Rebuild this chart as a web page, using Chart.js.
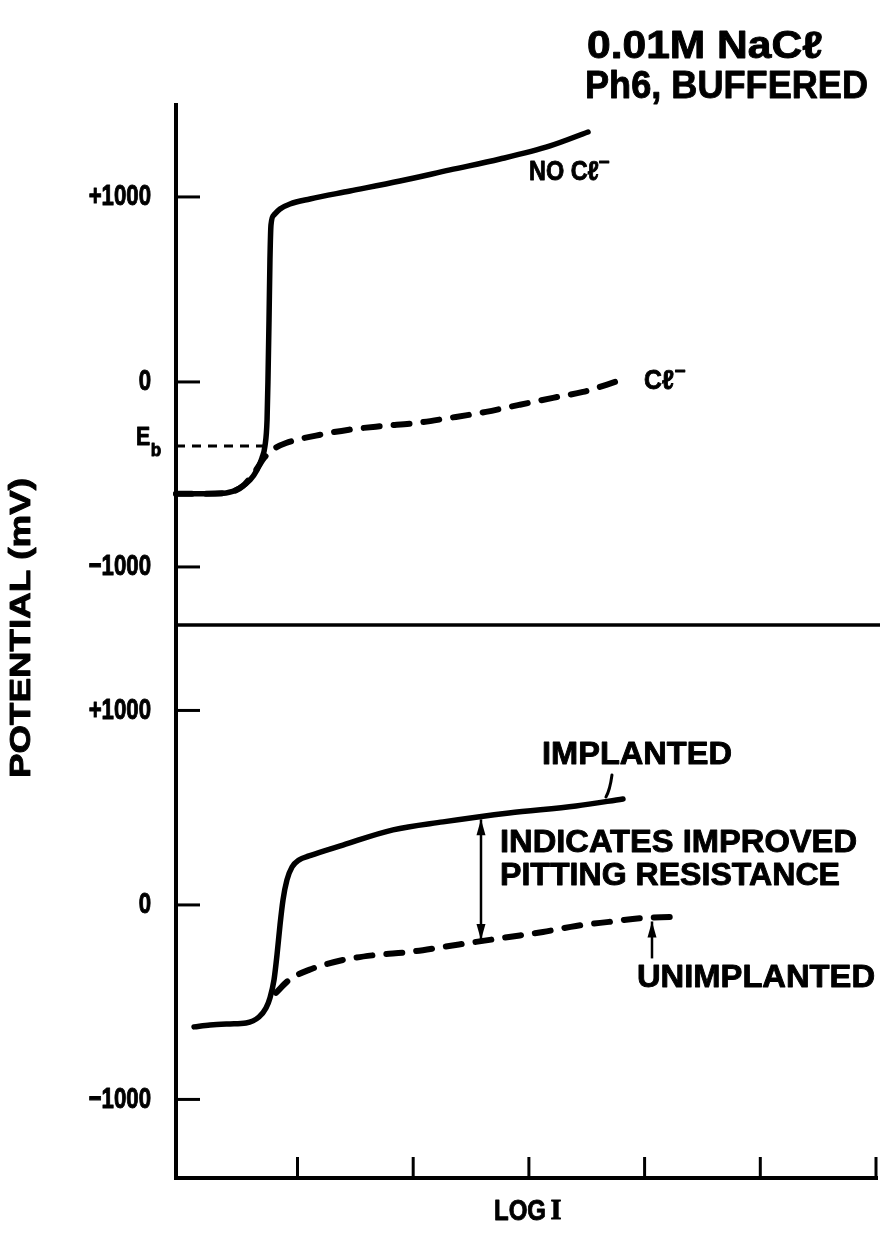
<!DOCTYPE html>
<html>
<head>
<meta charset="utf-8">
<style>
html,body{margin:0;padding:0;background:#fff;}
canvas{display:block;}
</style>
<script src="https://cdn.jsdelivr.net/npm/chart.js@4.4.1/dist/chart.umd.min.js"></script>
</head>
<body>
<canvas id="c" width="880" height="1238"></canvas>
<script>
// ---------- data (LOG I in arbitrary decades, potential in mV) ----------
const xTickValues = [1, 2, 3, 4, 5, 6];
const yTickValues = [-1000, 0, 1000];
const yTickLabels = ['\u22121000', '0', '+1000'];

// top panel: 0.01M NaCl, pH6 buffered
const noClX = [-0.05, 0.157, 0.382, 0.503, 0.590, 0.650, 0.693, 0.719, 0.737, 0.745, 0.754, 0.762, 0.771, 0.797, 0.849, 0.935, 1.108, 1.454, 1.886, 2.318, 2.750, 3.183, 3.511];
const noClY = [-605, -605, -600, -573, -530, -476, -411, -346, -205, 11, 335, 659, 849, 903, 935, 962, 989, 1032, 1086, 1146, 1205, 1276, 1351];

const clX = [-0.05, 0.382, 0.529, 0.641, 0.711, 0.780, 0.901, 1.160, 1.445, 1.739, 2.024, 2.310, 2.629, 2.915, 3.208, 3.468, 3.770];
const clY = [-605, -600, -562, -476, -411, -368, -330, -290, -258, -238, -222, -195, -162, -124, -86, -54, 5];

const ebX = [-0.05, 0.745];
const ebY = [-346, -346];

// bottom panel
const implX = [0.106, 0.244, 0.417, 0.555, 0.667, 0.728, 0.762, 0.797, 0.823, 0.849, 0.875, 0.909, 0.953, 1.013, 1.100, 1.393, 1.826, 2.258, 2.828, 3.407, 3.813];
const implY = [-627, -617, -612, -607, -576, -530, -478, -386, -257, -103, 26, 129, 195, 231, 252, 308, 386, 427, 473, 509, 545];

const unimplX = [0.814, 0.927, 1.100, 1.393, 1.679, 1.964, 2.258, 2.543, 2.828, 3.122, 3.407, 3.692, 3.986, 4.220];
const unimplY = [-452, -386, -334, -283, -257, -242, -216, -190, -165, -139, -108, -87, -67, -62];

// annotation anchors (data units)
const gapArrow = {x: 2.586, top: 440, bottom: -180};
const implPointer = {x1: 3.718, y1: 668, x2: 3.666, y2: 555};
const unimplArrow = {x: 4.064, from: -275, to: -85};
const panelSplitTop = -1314; // value on top scale where panels meet

// ---------- helpers ----------
const pts = (xs, ys) => xs.map((x, i) => ({x: x, y: ys[i]}));
const FONT = '"Liberation Sans", Arial, Helvetica, sans-serif';

function label(ctx, text, cx, cy, size, width, opts) {
  opts = opts || {};
  ctx.save();
  ctx.font = 'bold ' + size + 'px ' + (opts.family || FONT);
  const m = ctx.measureText(text).width;
  const sx = width ? width / m : (opts.sx || 1);
  ctx.translate(cx, cy);
  if (opts.rotate) ctx.rotate(opts.rotate);
  ctx.scale(sx, 1);
  ctx.textAlign = opts.align || 'center';
  ctx.textBaseline = 'middle';
  ctx.fillStyle = '#000';
  ctx.strokeStyle = '#000';
  ctx.lineJoin = 'round';
  ctx.lineWidth = opts.stroke === undefined ? 0.9 : opts.stroke;
  ctx.fillText(text, 0, 0);
  if (ctx.lineWidth > 0 && opts.stroke !== 0) ctx.strokeText(text, 0, 0);
  ctx.restore();
}

function vArrow(ctx, x, yFrom, yTo, both) {
  const head = (xx, yy, dir) => {
    ctx.beginPath();
    ctx.moveTo(xx, yy);
    ctx.lineTo(xx - 4.5, yy - dir * 16);
    ctx.lineTo(xx + 4.5, yy - dir * 16);
    ctx.closePath();
    ctx.fill();
  };
  ctx.beginPath();
  ctx.moveTo(x, yFrom);
  ctx.lineTo(x, yTo);
  ctx.stroke();
  const d = yTo > yFrom ? 1 : -1;
  head(x, yTo, d);
  if (both) head(x, yFrom, -d);
}

const framePlugin = {
  id: 'frame',
  afterDatasetsDraw(chart) {
    const {ctx, chartArea: a, scales} = chart;
    const X = scales.x, YT = scales.yTop, YB = scales.yBot;
    ctx.save();
    ctx.strokeStyle = '#000';
    ctx.fillStyle = '#000';

    // axes
    ctx.lineWidth = 4;
    ctx.lineCap = 'butt';
    ctx.beginPath();
    ctx.moveTo(a.left, a.top - 2);
    ctx.lineTo(a.left, a.bottom);
    ctx.lineTo(a.right + 2, a.bottom);
    ctx.stroke();

    // separator between the two panels
    const sepY = YT.getPixelForValue(panelSplitTop);
    ctx.lineWidth = 3.5;
    ctx.beginPath();
    ctx.moveTo(a.left, sepY);
    ctx.lineTo(a.right + 4, sepY);
    ctx.stroke();

    // inward y ticks + labels
    ctx.lineWidth = 3;
    [YT, YB].forEach(S => {
      yTickValues.forEach((v, i) => {
        const y = S.getPixelForValue(v);
        ctx.beginPath();
        ctx.moveTo(a.left, y);
        ctx.lineTo(a.left + 24, y);
        ctx.stroke();
        label(ctx, yTickLabels[i], 151, y, 30, 0, {align: 'right', sx: 0.74, stroke: 1});
      });
    });

    // inward x ticks
    xTickValues.forEach(v => {
      const x = X.getPixelForValue(v);
      ctx.beginPath();
      ctx.moveTo(x, a.bottom);
      ctx.lineTo(x, a.bottom - 21);
      ctx.stroke();
    });

    // gap double arrow
    ctx.lineWidth = 2.5;
    vArrow(ctx, X.getPixelForValue(gapArrow.x), YB.getPixelForValue(gapArrow.top), YB.getPixelForValue(gapArrow.bottom), true);
    // unimplanted arrow (points up to the curve)
    vArrow(ctx, X.getPixelForValue(unimplArrow.x), YB.getPixelForValue(unimplArrow.from), YB.getPixelForValue(unimplArrow.to), false);
    // implanted pointer
    ctx.lineWidth = 3;
    ctx.lineCap = 'round';
    ctx.beginPath();
    const px1 = X.getPixelForValue(implPointer.x1), py1 = YB.getPixelForValue(implPointer.y1);
    const px2 = X.getPixelForValue(implPointer.x2), py2 = YB.getPixelForValue(implPointer.y2);
    ctx.moveTo(px1, py1);
    ctx.quadraticCurveTo(px1 - 2, (py1 + py2) / 2 + 4, px2, py2);
    ctx.stroke();

    // texts
    label(ctx, '0.01M NaC\u2113', 705, 48, 38, 236);
    label(ctx, 'Ph6, BUFFERED', 726.5, 88, 38, 283);
    label(ctx, 'NO C\u2113', 564, 173, 27, 70);
    label(ctx, '\u2212', 604, 163, 18, 11);
    label(ctx, 'C\u2113', 659, 382, 27, 30);
    label(ctx, '\u2212', 680, 372, 18, 11);
    label(ctx, 'E', 143, 438, 25, 0, {sx: 0.85});
    label(ctx, 'b', 156, 451, 19, 0, {sx: 0.9});
    label(ctx, 'POTENTIAL (mV)', 22, 628, 29, 300, {rotate: -Math.PI / 2});
    label(ctx, 'LOG', 520, 1212, 29, 52);
    label(ctx, 'I', 556, 1212, 29, 11, {family: '"Liberation Serif", "Times New Roman", serif'});
    label(ctx, 'IMPLANTED', 637, 755, 32, 190);
    label(ctx, 'INDICATES IMPROVED', 678.5, 843, 32, 357);
    label(ctx, 'PITTING RESISTANCE', 670, 876, 32, 340);
    label(ctx, 'UNIMPLANTED', 756, 978, 32, 238);

    ctx.restore();
  }
};

const solid = {borderColor: '#000', borderWidth: 5.5, pointRadius: 0, borderCapStyle: 'round', borderJoinStyle: 'round', cubicInterpolationMode: 'monotone', fill: false, clip: false};
const dashed = Object.assign({}, solid, {borderWidth: 6, borderDash: [16, 14], borderCapStyle: 'round'});

new Chart(document.getElementById('c'), {
  type: 'line',
  data: {
    datasets: [
      Object.assign({label: 'NO Cl-', data: pts(noClX, noClY), yAxisID: 'yTop'}, solid),
      Object.assign({label: 'Cl-', data: pts(clX, clY), yAxisID: 'yTop'}, dashed),
      Object.assign({label: 'Eb', data: pts(ebX, ebY), yAxisID: 'yTop'}, solid, {borderWidth: 3, borderDash: [9, 7], borderCapStyle: 'butt', cubicInterpolationMode: 'default', tension: 0}),
      Object.assign({label: 'IMPLANTED', data: pts(implX, implY), yAxisID: 'yBot'}, solid),
      Object.assign({label: 'UNIMPLANTED', data: pts(unimplX, unimplY), yAxisID: 'yBot'}, dashed)
    ]
  },
  options: {
    responsive: false,
    devicePixelRatio: 1,
    animation: false,
    layout: {padding: {left: 176, right: 4, top: 105, bottom: 60}},
    scales: {
      x: {type: 'linear', min: -0.05, max: 6.0, display: false},
      yTop: {type: 'linear', min: -4303, max: 1497, display: false},
      yBot: {type: 'linear', min: -1404, max: 4113, display: false}
    },
    plugins: {legend: {display: false}, tooltip: {enabled: false}, title: {display: false}}
  },
  plugins: [framePlugin]
});
</script>
</body>
</html>
